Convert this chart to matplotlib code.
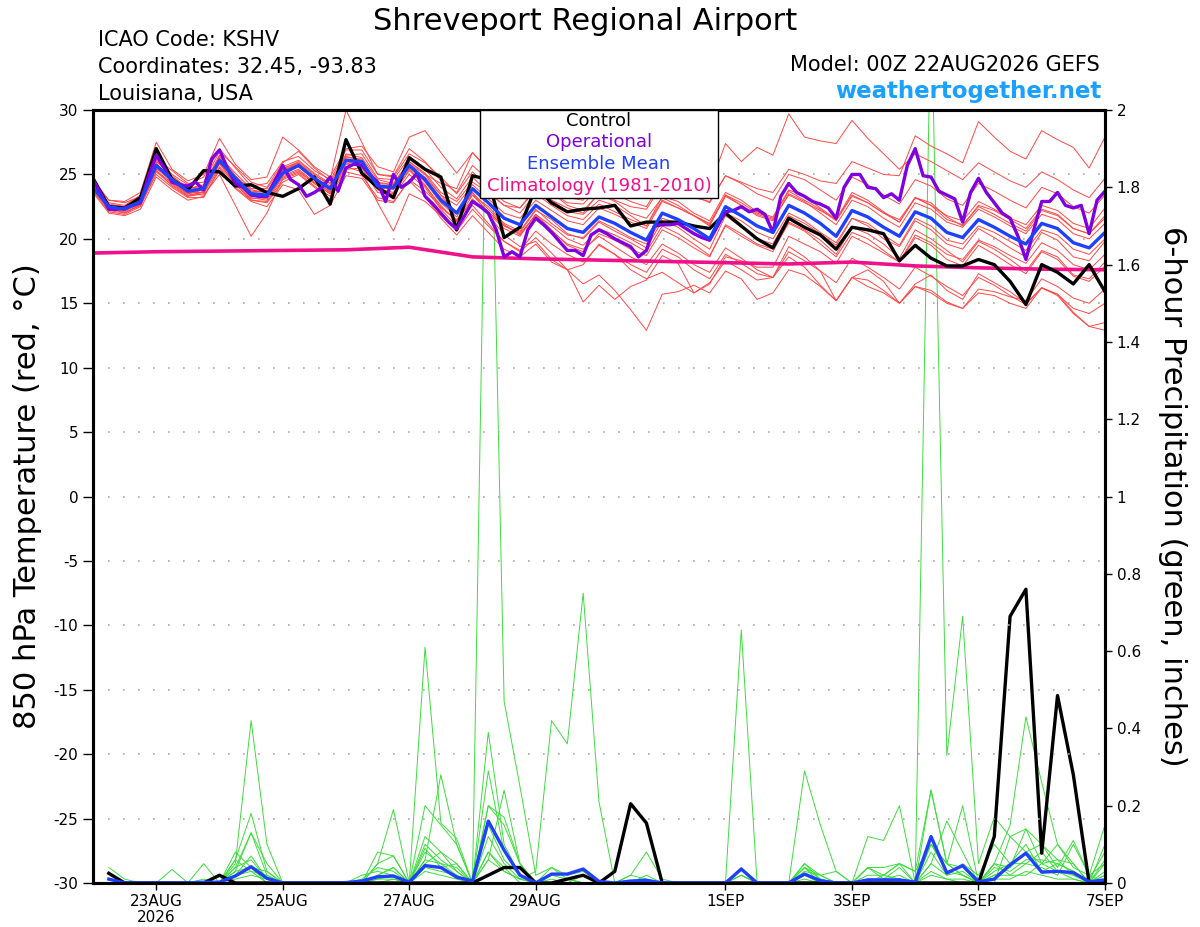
import numpy as np
import matplotlib
matplotlib.use("Agg")
import matplotlib.pyplot as plt
from matplotlib.patches import Rectangle
from matplotlib.ticker import FuncFormatter

plt.rcParams['font.family'] = ['DejaVu Sans']
plt.rcParams['axes.unicode_minus'] = False

# forecast hours (6-hourly for the ensemble, 3-hourly for the operational run)
hours = np.arange(0, 385, 6)
hours_op = np.arange(0, 385, 3)
hours_pcp = np.arange(6, 385, 6)
clim_hours = np.arange(0, 385, 24)

tick_hours = [24, 72, 120, 168, 240, 288, 336, 384]
tick_labels = ["23AUG\n2026", "25AUG", "27AUG", "29AUG", "1SEP", "3SEP", "5SEP", "7SEP"]

# 850 hPa temperature (C)
control_t = [24.7, 22.5, 22.4, 23.2, 27.0, 24.6, 23.8, 25.3, 25.2, 24.1, 24.2, 23.6, 23.3, 23.9, 24.8, 22.7, 27.7, 25.1, 24.0, 23.2, 26.3, 25.4,
             24.8, 20.7, 24.9, 24.6, 20.1, 20.9, 24.0, 22.8, 22.1, 22.3, 22.4, 22.6, 21.0, 21.3, 21.3, 21.3, 21.0, 20.8, 22.0, 21.0, 20.0,
             19.3, 21.6, 20.9, 20.3, 19.2, 20.9, 20.7, 20.4, 18.3, 19.5, 18.5, 17.9, 17.9, 18.4, 18.0, 16.7, 14.9, 18.0, 17.4, 16.5, 18.0, 15.9]

mean_t = [24.0, 22.5, 22.3, 22.9, 25.7, 24.6, 23.7, 23.9, 26.1, 24.7, 23.5, 23.4, 25.1, 25.7, 24.7, 23.9, 26.1, 26.0, 24.1, 24.0, 25.7, 24.6,
          23.0, 22.0, 23.9, 22.8, 21.6, 21.1, 22.6, 21.7, 20.8, 20.5, 21.7, 21.2, 20.5, 19.9, 22.0, 21.5, 20.8, 20.0, 22.5, 21.8, 21.0,
          20.5, 22.6, 22.0, 21.2, 20.2, 22.2, 21.7, 20.9, 20.2, 22.1, 21.6, 20.5, 20.1, 21.5, 20.9, 20.2, 19.6, 21.2, 20.8, 19.7, 19.3, 20.5]

oper_t = [24.6, 23.5, 22.3, 22.3, 22.4, 22.6, 22.8, 24.8, 26.5, 25.5, 24.4, 24.2, 24.1, 24.4, 23.8, 26.2, 26.9, 25.5, 24.3, 24.0, 23.4, 23.3,
          23.3, 24.5, 25.7, 24.6, 24.2, 23.3, 23.6, 24.0, 24.8, 23.7, 25.5, 25.8, 25.7, 25.0, 24.4, 22.9, 25.0, 24.0, 24.4, 25.1, 23.3,
          22.7, 22.0, 21.3, 20.8, 21.8, 22.9, 22.5, 22.0, 20.7, 18.6, 19.0, 18.6, 20.7, 21.6, 21.1, 20.5, 19.8, 19.1, 19.1, 18.7, 20.3,
          20.7, 20.4, 20.0, 19.7, 19.4, 18.6, 19.1, 21.0, 21.1, 21.1, 21.2, 20.8, 20.4, 20.1, 19.9, 21.0, 22.1, 22.2, 22.5, 22.1, 22.3,
          21.9, 20.5, 23.3, 24.3, 23.6, 23.3, 22.9, 22.7, 22.4, 21.6, 24.0, 25.0, 25.0, 24.0, 23.9, 23.2, 23.5, 23.0, 25.7, 27.0, 24.9,
          24.8, 23.7, 23.4, 23.1, 21.3, 23.6, 24.7, 23.6, 22.8, 22.0, 21.6, 20.2, 18.4, 20.7, 22.9, 22.9, 23.6, 22.6, 22.4, 22.6, 20.4,
          23.0, 23.7]

clim_t = [18.9, 19.0, 19.05, 19.1, 19.15, 19.35, 18.6, 18.45, 18.35, 18.25, 18.15, 18.05, 18.2, 17.9, 17.75, 17.65, 17.6]

members_t = [
    [24.3, 22.8, 22.6, 23.4, 26.4, 25.0, 24.2, 24.8, 27.0, 25.5, 24.1, 24.3, 26.0, 26.4, 25.3, 24.6, 30.0, 27.5, 25.0, 24.8, 26.6, 25.9,
     24.8, 23.5, 25.2, 24.0, 22.9, 22.4, 23.8, 23.0, 22.1, 21.9, 23.0, 22.6, 21.8, 21.0, 23.3, 22.9, 22.0, 21.4, 23.6, 23.0, 22.1,
     21.7, 23.8, 23.3, 22.4, 21.5, 23.6, 23.0, 22.1, 21.3, 23.2, 22.8, 21.7, 21.0, 22.6, 22.2, 21.5, 20.8, 22.3, 21.9, 20.8, 20.4, 21.8],
    [23.8, 22.1, 21.9, 22.5, 25.2, 24.2, 23.3, 23.5, 25.6, 24.3, 23.0, 22.9, 24.6, 25.1, 24.1, 23.3, 25.4, 25.5, 23.6, 23.4, 25.0, 24.0,
     22.3, 21.0, 22.6, 21.2, 19.8, 19.0, 20.1, 18.9, 17.6, 16.5, 17.2, 16.0, 14.5, 12.9, 15.7, 15.9, 16.4, 15.8, 17.5, 16.9, 15.3,
     15.8, 17.6, 17.2, 16.3, 15.2, 17.0, 16.8, 16.0, 15.0, 16.3, 16.0, 15.1, 14.6, 15.8, 15.6, 15.0, 14.6, 16.2, 15.7, 14.3, 13.2, 12.9],
    [24.5, 23.0, 22.8, 23.3, 26.2, 25.3, 24.3, 24.4, 26.8, 25.6, 24.4, 24.0, 25.9, 26.8, 25.5, 24.5, 26.9, 26.9, 25.0, 24.9, 27.0, 26.0,
     24.5, 23.6, 25.7, 24.6, 23.5, 23.1, 24.8, 24.0, 23.2, 23.0, 24.6, 24.3, 23.8, 23.4, 25.6, 25.3, 24.6, 24.0, 27.4, 26.0, 27.1,
     26.5, 29.7, 27.9, 27.6, 27.4, 29.2, 27.8, 26.6, 25.4, 26.6, 26.0, 25.3, 24.6, 25.9, 25.2, 24.5, 24.0, 25.2, 24.6, 23.8, 23.2, 24.7],
    [23.9, 22.4, 22.0, 22.7, 25.4, 24.8, 23.9, 24.2, 26.5, 24.9, 23.8, 23.6, 25.5, 25.9, 24.9, 24.3, 26.6, 26.3, 24.6, 24.3, 26.0, 25.1,
     23.6, 22.9, 24.4, 23.6, 22.6, 22.4, 23.9, 23.0, 22.4, 22.0, 23.6, 23.0, 22.5, 22.3, 24.2, 23.7, 23.2, 22.9, 24.9, 24.4, 23.9,
     23.6, 25.4, 25.0, 24.5, 24.3, 26.0, 25.5, 25.0, 24.9, 28.0, 27.2, 26.6, 25.9, 29.1, 27.9, 26.8, 26.2, 28.4, 27.7, 27.1, 25.5, 27.9],
    [24.1, 22.3, 22.1, 22.6, 25.0, 24.0, 23.2, 23.2, 25.5, 24.0, 23.0, 22.8, 24.4, 25.0, 24.0, 23.1, 25.2, 24.9, 23.2, 22.9, 24.5, 23.3,
     21.6, 20.3, 21.8, 20.5, 19.2, 18.6, 19.6, 18.2, 17.6, 15.1, 16.4, 15.3, 16.3, 16.8, 18.7, 18.1, 15.8, 16.6, 18.3, 17.6, 16.8,
     17.0, 19.4, 18.6, 17.5, 15.2, 17.0, 17.6, 16.7, 15.0, 16.5, 17.2, 16.0, 15.3, 17.3, 16.6, 15.9, 15.0, 16.2, 15.7, 14.6, 14.2, 15.0],
    [23.6, 22.0, 21.8, 22.3, 24.8, 23.8, 23.0, 23.3, 25.3, 23.9, 22.9, 22.5, 24.2, 23.8, 21.9, 22.6, 24.9, 24.7, 23.0, 22.8, 24.6, 23.7,
     22.5, 21.4, 23.4, 22.1, 21.0, 20.5, 22.2, 21.5, 20.4, 20.0, 21.3, 20.6, 20.0, 19.3, 21.4, 20.9, 20.0, 19.2, 21.8, 20.9, 20.0,
     19.6, 21.8, 21.2, 20.4, 19.5, 21.6, 21.0, 20.0, 19.4, 21.4, 20.7, 19.6, 19.2, 20.8, 20.1, 19.3, 18.6, 20.5, 19.9, 18.6, 18.3, 19.8],
    [24.4, 22.6, 22.5, 23.0, 25.9, 24.4, 23.5, 23.4, 25.0, 22.6, 20.2, 22.0, 24.7, 25.2, 24.3, 23.5, 25.8, 25.7, 23.8, 23.5, 25.3, 24.1,
     22.6, 21.3, 23.1, 22.0, 20.8, 20.2, 21.9, 21.0, 20.0, 19.5, 20.8, 20.3, 19.7, 19.0, 21.0, 20.4, 19.6, 18.7, 21.0, 20.2, 19.5,
     19.0, 21.3, 20.7, 19.9, 18.8, 20.9, 20.4, 19.6, 18.5, 20.7, 20.0, 19.1, 18.2, 19.8, 19.2, 18.4, 17.5, 19.1, 18.6, 17.2, 16.9, 18.2],
    [24.2, 22.4, 22.2, 22.8, 25.3, 24.3, 23.4, 23.6, 25.8, 24.4, 23.2, 23.0, 24.8, 25.3, 24.3, 23.5, 25.6, 25.2, 22.8, 20.6, 23.5, 22.9,
     21.8, 20.6, 22.3, 21.0, 19.8, 19.1, 20.6, 19.6, 18.8, 18.2, 19.5, 18.8, 18.0, 17.4, 19.2, 18.6, 17.6, 16.9, 18.8, 18.1, 17.3,
     17.0, 19.0, 18.3, 17.5, 16.6, 18.5, 17.8, 17.0, 16.1, 17.8, 17.1, 16.3, 15.6, 17.0, 16.4, 15.6, 14.9, 16.2, 15.6, 14.2, 13.2, 13.5],
    [24.6, 23.0, 22.9, 23.6, 27.5, 25.4, 24.5, 25.0, 27.8, 25.8, 24.6, 24.8, 27.9, 26.9, 25.6, 24.8, 27.0, 27.2, 25.6, 25.2, 27.9, 28.4,
     26.7, 25.1, 26.7, 25.3, 24.0, 23.4, 24.8, 23.6, 22.6, 22.2, 23.5, 22.9, 22.0, 21.6, 23.2, 22.6, 21.8, 21.0, 23.4, 22.6, 21.8,
     21.4, 23.5, 22.9, 22.0, 21.1, 23.0, 22.5, 21.6, 20.9, 22.8, 22.3, 21.3, 20.9, 22.3, 21.7, 21.0, 20.4, 21.9, 21.5, 20.4, 20.0, 21.2],
    [23.7, 22.2, 22.0, 22.6, 25.6, 24.5, 23.6, 23.6, 26.0, 24.5, 23.3, 23.2, 25.3, 25.9, 24.5, 23.6, 26.3, 26.2, 24.2, 23.8, 25.9, 24.6,
     23.2, 22.1, 23.4, 22.5, 21.2, 20.6, 22.3, 21.2, 20.3, 20.1, 21.4, 20.8, 20.1, 19.6, 21.6, 21.2, 20.5, 19.8, 22.0, 21.4, 20.5,
     20.0, 22.0, 21.4, 20.5, 19.7, 21.6, 21.2, 20.3, 19.5, 21.6, 21.0, 19.9, 19.6, 21.0, 20.5, 19.8, 19.1, 20.7, 20.3, 19.2, 18.8, 20.0],
    [24.2, 22.7, 22.5, 23.1, 26.0, 24.9, 23.9, 24.1, 26.4, 25.1, 23.9, 23.9, 25.6, 26.1, 25.1, 24.3, 26.5, 26.6, 24.7, 24.6, 26.3, 25.4,
     24.0, 23.1, 24.8, 23.6, 22.6, 22.0, 23.5, 22.6, 21.8, 21.5, 22.7, 22.1, 21.5, 21.0, 23.0, 22.4, 21.8, 21.2, 23.4, 22.8, 22.0,
     21.6, 23.7, 23.0, 22.3, 21.4, 23.3, 22.8, 22.0, 21.3, 23.2, 22.6, 21.5, 21.1, 22.5, 21.9, 21.2, 20.6, 22.2, 21.8, 20.8, 20.4, 21.6],
    [23.9, 22.3, 22.2, 22.9, 25.5, 24.4, 23.5, 23.8, 25.9, 24.6, 23.4, 23.1, 24.9, 25.4, 24.4, 23.7, 25.9, 25.6, 23.9, 23.6, 25.4, 24.2,
     22.4, 21.5, 23.0, 22.1, 21.0, 20.4, 21.8, 20.6, 19.6, 19.2, 20.2, 19.4, 18.6, 18.0, 19.6, 18.9, 18.0, 17.4, 19.3, 18.5, 17.6,
     17.0, 18.6, 17.8, 16.4, 15.2, 17.0, 16.3, 15.8, 15.0, 16.3, 15.8, 15.0, 14.6, 16.1, 15.9, 15.5, 15.2, 16.9, 16.3, 15.4, 15.0, 16.1],
    [24.0, 22.5, 22.4, 23.0, 25.8, 24.7, 23.8, 24.0, 26.2, 24.8, 23.7, 23.6, 25.3, 25.8, 24.8, 24.0, 26.2, 26.0, 24.3, 24.2, 25.8, 25.0,
     24.3, 23.9, 26.7, 25.4, 24.1, 23.5, 24.6, 23.6, 22.8, 22.7, 24.0, 23.5, 22.9, 22.5, 24.5, 24.0, 23.4, 22.8, 24.9, 24.3, 23.5,
     23.0, 25.0, 24.6, 23.8, 23.0, 24.8, 24.2, 23.4, 22.7, 24.6, 24.1, 23.1, 22.6, 24.3, 23.7, 23.0, 22.4, 24.0, 23.5, 22.5, 22.0, 23.4],
    [24.0, 22.6, 22.2, 22.7, 25.3, 24.1, 23.3, 23.7, 25.9, 24.2, 23.1, 23.2, 25.3, 25.6, 24.6, 23.8, 26.0, 25.8, 23.9, 23.9, 25.5, 24.4,
     22.8, 21.7, 23.6, 22.3, 21.1, 20.3, 21.9, 20.7, 19.5, 19.0, 20.4, 19.9, 19.2, 18.7, 20.7, 20.1, 19.3, 18.6, 21.1, 20.4, 19.6,
     19.2, 21.2, 20.6, 19.6, 18.6, 20.5, 20.0, 19.1, 18.2, 20.1, 19.5, 18.4, 17.9, 19.5, 18.8, 18.0, 17.3, 19.0, 18.4, 17.1, 16.7, 17.9],
    [24.3, 22.5, 22.3, 23.2, 26.1, 24.8, 24.0, 23.9, 26.3, 24.9, 23.6, 23.7, 25.4, 26.0, 25.0, 24.1, 26.4, 26.1, 24.4, 24.2, 26.0, 25.0,
     23.4, 22.0, 23.6, 21.9, 20.3, 19.4, 19.8, 18.4, 17.6, 18.0, 19.6, 18.8, 17.6, 16.9, 17.4, 16.6, 15.8, 16.5, 18.6, 18.3, 17.8,
     17.8, 20.2, 19.6, 19.0, 18.1, 20.2, 19.6, 18.9, 18.2, 20.3, 19.7, 18.8, 18.4, 19.9, 19.4, 18.7, 18.1, 19.7, 19.1, 18.0, 17.6, 18.8],
    [24.1, 22.4, 22.3, 22.8, 25.7, 24.6, 23.6, 23.8, 26.0, 24.6, 23.4, 23.3, 25.0, 25.6, 24.6, 23.8, 26.0, 25.9, 24.0, 24.1, 25.6, 24.8,
     23.4, 22.6, 24.2, 23.1, 22.0, 21.6, 23.0, 22.2, 21.4, 21.1, 22.4, 21.9, 21.3, 20.8, 22.9, 22.4, 21.8, 21.1, 23.3, 22.6, 21.9,
     21.5, 23.4, 22.8, 22.2, 21.5, 23.4, 22.8, 22.0, 21.5, 23.2, 22.6, 21.8, 21.4, 22.9, 22.3, 21.6, 21.1, 22.6, 22.2, 21.2, 20.8, 22.4],
]

# 6-hour precipitation (inches), hours 6..384
control_p = [0.025, 0, 0, 0, 0, 0, 0, 0.02,
             0, 0, 0, 0, 0, 0, 0, 0,
             0, 0, 0, 0, 0, 0, 0, 0,
             0.02, 0.04, 0.04, 0, 0, 0.01, 0.02, 0,
             0.03, 0.205, 0.155, 0, 0, 0, 0, 0,
             0, 0, 0, 0, 0, 0, 0, 0,
             0, 0, 0, 0, 0, 0, 0, 0,
             0.12, 0.69, 0.76, 0.077, 0.485, 0.28, 0, 0.005]

mean_p = [0.01, 0, 0, 0, 0, 0, 0.002, 0.002,
          0.018, 0.042, 0.012, 0, 0, 0, 0, 0.001,
          0.005, 0.016, 0.018, 0.002, 0.045, 0.04, 0.015, 0.005,
          0.16, 0.085, 0.02, 0, 0.023, 0.023, 0.036, 0.004,
          0, 0.005, 0.007, 0, 0, 0, 0, 0,
          0.036, 0, 0, 0, 0.023, 0.006, 0, 0,
          0.008, 0.008, 0.008, 0.002, 0.12, 0.026, 0.045, 0.003,
          0.01, 0.047, 0.077, 0.028, 0.03, 0.027, 0.003, 0.008]

members_p = [
    [0.01, 0, 0, 0, 0, 0, 0, 0,
     0.02, 0.07, 0.01, 0, 0, 0, 0, 0,
     0, 0.02, 0.04, 0, 0.12, 0.08, 0.03, 0,
     2.4, 0.47, 0.25, 0.02, 0.04, 0.01, 0, 0,
     0, 0.02, 0.01, 0, 0, 0, 0, 0,
     0.02, 0, 0, 0, 0.05, 0.01, 0, 0,
     0.04, 0.02, 0.05, 0, 0.1, 0.05, 0.02, 0,
     0.05, 0.04, 0.08, 0.1, 0.06, 0.05, 0, 0.1],
    [0.04, 0.01, 0, 0, 0, 0, 0, 0,
     0.04, 0.13, 0.05, 0, 0, 0, 0, 0,
     0, 0.05, 0.07, 0, 0.2, 0.15, 0.1, 0,
     0.2, 0.17, 0.05, 0, 0.04, 0.02, 0.03, 0,
     0, 0, 0, 0, 0, 0, 0, 0,
     0, 0, 0, 0, 0.04, 0.01, 0, 0,
     0.12, 0.11, 0.2, 0, 2.3, 0.33, 0.69, 0.05,
     0.17, 0.12, 0.14, 0.1, 0.04, 0.11, 0.02, 0.15],
    [0, 0, 0, 0, 0.035, 0, 0.05, 0,
     0.06, 0.18, 0.03, 0, 0, 0, 0, 0,
     0, 0, 0, 0, 0.06, 0.28, 0.1, 0,
     0.08, 0.03, 0.01, 0.03, 0.42, 0.36, 0.75, 0.21,
     0, 0.02, 0.08, 0.01, 0, 0, 0, 0,
     0, 0, 0, 0, 0.04, 0.02, 0.03, 0,
     0, 0, 0, 0, 0.05, 0.16, 0.08, 0,
     0.05, 0.15, 0.43, 0.26, 0.1, 0.05, 0, 0.05],
    [0, 0, 0, 0, 0, 0, 0, 0,
     0.05, 0.42, 0.1, 0, 0, 0, 0, 0,
     0, 0.05, 0.19, 0, 0.61, 0.155, 0.115, 0,
     0.06, 0.24, 0.05, 0, 0, 0, 0, 0,
     0, 0, 0, 0, 0, 0, 0, 0,
     0.655, 0, 0, 0, 0.29, 0.15, 0.03, 0,
     0, 0, 0, 0, 0.24, 0.05, 0.2, 0,
     0, 0.12, 0.08, 0.05, 0.06, 0.02, 0, 0.02],
    [0.01, 0, 0, 0, 0, 0, 0, 0,
     0.03, 0.13, 0.02, 0, 0, 0, 0, 0,
     0, 0.08, 0.07, 0, 0.08, 0.05, 0.02, 0,
     0.39, 0.1, 0.02, 0, 0, 0, 0.02, 0,
     0, 0, 0, 0, 0, 0, 0, 0,
     0.04, 0, 0, 0, 0.05, 0.02, 0, 0,
     0.04, 0.04, 0.05, 0.03, 0.1, 0.05, 0.02, 0,
     0.02, 0.04, 0.14, 0.05, 0.03, 0.02, 0.01, 0.08],
    [0, 0, 0, 0, 0, 0, 0.01, 0,
     0.04, 0.06, 0.01, 0, 0, 0, 0, 0,
     0.01, 0.04, 0.03, 0, 0.05, 0.08, 0.05, 0,
     0.29, 0.08, 0.02, 0, 0, 0.01, 0, 0,
     0, 0, 0, 0, 0, 0, 0, 0,
     0.02, 0, 0, 0, 0.04, 0, 0, 0,
     0, 0.02, 0.05, 0.03, 0.24, 0.05, 0.04, 0,
     0.05, 0.02, 0.02, 0.05, 0.1, 0.04, 0.02, 0.05],
    [0, 0, 0, 0, 0, 0, 0, 0,
     0.08, 0.04, 0, 0, 0, 0, 0, 0,
     0, 0.02, 0.04, 0, 0.1, 0.06, 0.03, 0,
     0.2, 0.15, 0.05, 0, 0.02, 0.01, 0, 0,
     0, 0, 0.02, 0, 0, 0, 0, 0,
     0, 0, 0, 0, 0.02, 0.01, 0, 0,
     0.02, 0.02, 0.01, 0, 0.05, 0.02, 0.05, 0.02,
     0.1, 0.05, 0.05, 0.04, 0.02, 0.1, 0.02, 0],
    [0, 0, 0, 0, 0, 0, 0, 0,
     0.03, 0.04, 0.03, 0, 0, 0, 0, 0,
     0, 0.01, 0.02, 0, 0.06, 0.05, 0.04, 0,
     0.12, 0.05, 0.01, 0, 0.01, 0, 0, 0,
     0, 0, 0, 0, 0, 0, 0, 0,
     0, 0, 0, 0, 0.02, 0, 0, 0,
     0.01, 0.01, 0.02, 0, 0.1, 0.03, 0.02, 0,
     0.03, 0.05, 0.1, 0.03, 0.05, 0.03, 0, 0.03],
    [0, 0, 0, 0, 0, 0, 0, 0,
     0.02, 0.03, 0.02, 0, 0, 0, 0, 0,
     0, 0, 0.01, 0, 0.04, 0.03, 0.02, 0,
     0.08, 0.04, 0, 0, 0, 0, 0, 0,
     0, 0, 0, 0, 0, 0, 0, 0,
     0, 0, 0, 0, 0, 0, 0, 0,
     0, 0, 0.01, 0, 0.03, 0.01, 0.01, 0,
     0.02, 0.02, 0.05, 0.08, 0.03, 0.01, 0, 0.02],
    [0, 0, 0, 0, 0, 0, 0, 0,
     0.01, 0.02, 0.01, 0, 0, 0, 0, 0,
     0, 0.01, 0.01, 0, 0.03, 0.02, 0.01, 0,
     0.06, 0.03, 0.01, 0, 0, 0, 0, 0,
     0, 0, 0, 0, 0, 0, 0, 0,
     0, 0, 0, 0, 0.01, 0, 0, 0,
     0, 0, 0, 0, 0.02, 0.01, 0, 0,
     0.01, 0.01, 0.03, 0.02, 0.01, 0.01, 0, 0.01],
    [0, 0, 0, 0, 0, 0, 0, 0,
     0.06, 0.03, 0, 0, 0, 0, 0, 0,
     0.02, 0.03, 0.02, 0, 0.09, 0.04, 0.05, 0,
     0.15, 0.06, 0.02, 0, 0, 0, 0, 0,
     0, 0, 0, 0, 0, 0, 0, 0,
     0.02, 0, 0, 0, 0.03, 0.02, 0, 0,
     0.04, 0.01, 0.04, 0, 0.08, 0.02, 0.03, 0,
     0.04, 0.03, 0.06, 0.06, 0.05, 0.03, 0, 0.06],
]

RED = '#ff4848'
GREEN = '#3ddc3d'
PURPLE = '#7f00df'
BLUE = '#2040ff'
MAGENTA = '#f0108a'

fig = plt.figure(figsize=(12, 9.27), dpi=100)
ax = fig.add_axes([0.0775, 0.0475, 0.8433, 0.8338])
ax2 = ax.twinx()
ax.set_zorder(ax2.get_zorder() + 1)
ax.patch.set_visible(False)

# precipitation on the right axis
for m in members_p:
    ax2.plot(hours_pcp, m, color=GREEN, lw=0.7)
ax2.plot(hours_pcp, control_p, color='black', lw=2.4)
ax2.plot(hours_pcp, mean_p, color=BLUE, lw=2.4)

# temperature on the left axis
for m in members_t:
    ax.plot(hours, m, color=RED, lw=0.7)
ax.plot(clim_hours, clim_t, color=MAGENTA, lw=2.6)
ax.plot(hours, control_t, color='black', lw=2.4)
ax.plot(hours_op, oper_t, color=PURPLE, lw=2.4)
ax.plot(hours, mean_t, color=BLUE, lw=2.4)

ax.set_xlim(0, 384)
ax.set_ylim(-30, 30)
ax2.set_ylim(0, 2)
ax.set_yticks(np.arange(-30, 31, 5))
ax2.set_yticks(np.arange(0, 2.01, 0.2))
ax2.yaxis.set_major_formatter(FuncFormatter(lambda v, p: '%g' % round(v, 1)))
ax.set_xticks(tick_hours)
ax.set_xticklabels(tick_labels, fontsize=11, linespacing=1.05)
ax.tick_params(axis='y', labelsize=11, length=7, width=1, direction='out')
ax2.tick_params(axis='y', labelsize=11, length=5, width=1, direction='out')
ax.tick_params(axis='x', length=5, width=1, direction='out', pad=3)
ax.yaxis.grid(True, linestyle=(0, (1, 8)), color='#a8a8a8', lw=1.2)
ax.set_axisbelow(True)
for a in (ax, ax2):
    for s in a.spines.values():
        s.set_linewidth(2.2)

ax.set_ylabel("850 hPa Temperature (red, °C)", fontsize=22, labelpad=8)
ax2.set_ylabel("6-hour Precipitation (green, inches)", fontsize=22, rotation=270,
               va='bottom', labelpad=12)

# legend box
ax.add_patch(Rectangle((0.3824, 0.886), 0.2352, 0.114, transform=ax.transAxes,
                       facecolor='white', edgecolor='black', lw=1, zorder=20))
for txt, col, yy in [("Control", 'black', 0.986), ("Operational", PURPLE, 0.958),
                     ("Ensemble Mean", BLUE, 0.930), ("Climatology (1981-2010)", MAGENTA, 0.902)]:
    ax.text(0.5, yy, txt, color=col, fontsize=13, ha='center', va='center',
            transform=ax.transAxes, zorder=21)

fig.text(0.488, 0.9676, "Shreveport Regional Airport", fontsize=22, ha='center', va='baseline')
fig.text(0.0817, 0.9504, "ICAO Code: KSHV", fontsize=15, va='baseline')
fig.text(0.0817, 0.9213, "Coordinates: 32.45, -93.83", fontsize=15, va='baseline')
fig.text(0.0817, 0.8921, "Louisiana, USA", fontsize=15, va='baseline')
fig.text(0.9167, 0.9234, "Model: 00Z 22AUG2026 GEFS", fontsize=15, ha='right', va='baseline')
fig.text(0.9175, 0.8943, "weathertogether.net", fontsize=16.5, ha='right', va='baseline',
         color='#1aa0ff', fontweight='bold')

fig.savefig("out.png", dpi=100)
